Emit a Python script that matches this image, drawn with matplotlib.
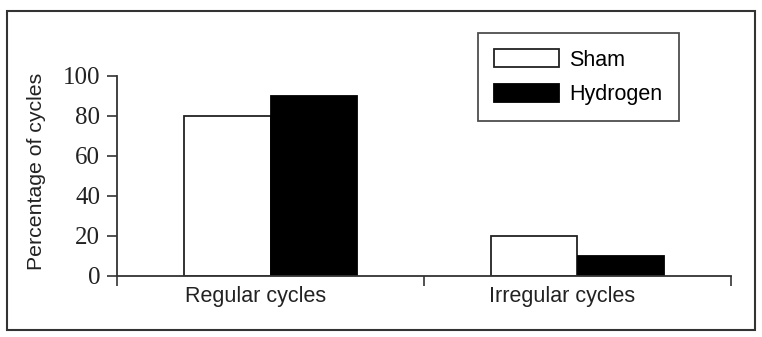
import matplotlib.pyplot as plt
import numpy as np
from matplotlib.patches import Rectangle

categories = ['Regular cycles', 'Irregular cycles']
sham = [80, 20]
hydrogen = [90, 10]

fig = plt.figure(figsize=(7.62, 3.37), dpi=100)
W, H = 762, 337

# outer frame
fig.patches.append(Rectangle((7 / W, 1 - 330 / H), 748 / W, 319 / H,
                             transform=fig.transFigure, fill=False,
                             edgecolor='#333333', linewidth=1.5))

ax = fig.add_axes([117 / W, 1 - 276 / H, 614 / W, 200 / H])

x = np.arange(len(categories))
bw = 0.283
ax.bar(x - bw / 2, sham, bw, color='white', edgecolor='#222222',
       linewidth=1.3, label='Sham')
ax.bar(x + bw / 2, hydrogen, bw, color='black', edgecolor='black',
       linewidth=1.3, label='Hydrogen')

ax.set_xlim(-0.5, 1.5)
ax.set_ylim(0, 100)
for s in ['top', 'right']:
    ax.spines[s].set_visible(False)
for s in ['left', 'bottom']:
    ax.spines[s].set_color('#333333')
    ax.spines[s].set_linewidth(1.3)

ax.set_yticks([0, 20, 40, 60, 80, 100])
ax.tick_params(axis='y', length=7, width=1.2, color='#333333', pad=5,
               labelsize=18, labelcolor='#222222')
for lab in ax.get_yticklabels():
    lab.set_family('Liberation Serif')

ax.set_xticks([-0.5, 0.5, 1.5])
ax.set_xticklabels([])
ax.tick_params(axis='x', which='major', length=7, width=1.2, color='#333333')
# category labels sit slightly left of the group centres in the original
ax.set_xticks(x - 0.05, minor=True)
ax.set_xticklabels(categories, minor=True, family='Liberation Sans',
                   fontsize=15.5, color='#222222')
ax.tick_params(axis='x', which='minor', length=0, pad=7)

ax.set_ylabel('Percentage of cycles', family='Liberation Sans',
              fontsize=15.3, color='#222222')
ax.yaxis.set_label_coords((46 - 117) / 614, 0.525)

leg = ax.legend(loc='upper left', bbox_to_anchor=(478 / W, 1 - 33 / H),
                bbox_transform=fig.transFigure, frameon=True, fancybox=False,
                prop={'family': 'Liberation Sans', 'size': 15.5},
                handlelength=3.0, handleheight=0.9, borderpad=0.75,
                labelspacing=0.62, handletextpad=0.5, borderaxespad=0)
leg.get_frame().set_edgecolor('#222222')
leg.get_frame().set_linewidth(1.3)

plt.savefig('out.png', dpi=100)
